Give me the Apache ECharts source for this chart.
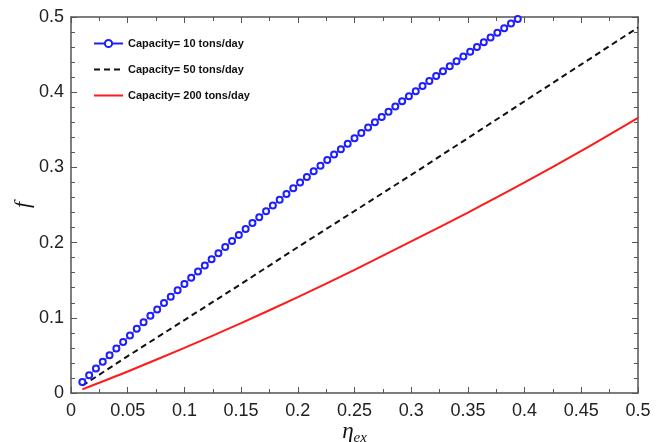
<!DOCTYPE html>
<html>
<head>
<meta charset="utf-8">
<script src="https://cdn.jsdelivr.net/npm/echarts@6/dist/echarts.min.js"></script>
<style>html,body{margin:0;padding:0;background:#fff}#c{width:665px;height:442px}</style>
</head>
<body>
<div id="c"></div>
<script>
var seriesNames = ['Capacity= 10 tons/day', 'Capacity= 50 tons/day', 'Capacity= 200 tons/day'];
var xTicks = ['0','0.05','0.1','0.15','0.2','0.25','0.3','0.35','0.4','0.45','0.5'];
var yTicks = ['0','0.1','0.2','0.3','0.4','0.5'];

// Capacity = 10 tons/day (markers)
var x10 = [0.010,0.016,0.022,0.028,0.034,0.040,0.046,0.052,0.058,0.064,
           0.070,0.076,0.082,0.088,0.094,0.100,0.106,0.112,0.118,0.124,
           0.130,0.136,0.142,0.148,0.154,0.160,0.166,0.172,0.178,0.184,
           0.190,0.196,0.202,0.208,0.214,0.220,0.226,0.232,0.238,0.244,
           0.250,0.256,0.262,0.268,0.274,0.280,0.286,0.292,0.298,0.304,
           0.310,0.316,0.322,0.328,0.334,0.340,0.346,0.352,0.358,0.364,
           0.370,0.376,0.382,0.388,0.394];
var y10 = [0.0145,0.0235,0.0325,0.0414,0.0503,0.0591,0.0679,0.0766,0.0853,0.0940,
           0.1026,0.1111,0.1196,0.1281,0.1365,0.1449,0.1532,0.1615,0.1697,0.1779,
           0.1860,0.1941,0.2021,0.2101,0.2180,0.2259,0.2338,0.2416,0.2493,0.2570,
           0.2647,0.2723,0.2799,0.2874,0.2949,0.3023,0.3097,0.3170,0.3243,0.3315,
           0.3387,0.3459,0.3530,0.3600,0.3670,0.3740,0.3809,0.3878,0.3946,0.4014,
           0.4081,0.4148,0.4214,0.4280,0.4345,0.4410,0.4475,0.4539,0.4602,0.4665,
           0.4728,0.4790,0.4852,0.4913,0.4973];

// Capacity = 50 tons/day (dashed)
var x50 = [0.01,0.05,0.10,0.15,0.20,0.25,0.30,0.35,0.40,0.45,0.50];
var y50 = [0.0097,0.049,0.097,0.145,0.194,0.242,0.290,0.339,0.388,0.437,0.486];

// Capacity = 200 tons/day (solid red)
var x200 = [0.01,0.05,0.10,0.15,0.20,0.25,0.30,0.35,0.40,0.45,0.50];
var y200 = [0.0049,0.0286,0.0600,0.0929,0.1275,0.1637,0.2016,0.2400,0.2800,0.3220,0.3660];

function pairs(xs, ys){ return xs.map(function(x,i){ return [x, ys[i]]; }); }

var axisColor = '#555';
var labelFont = {fontFamily:'Liberation Sans, Arial, sans-serif', fontSize:18, color:'#222'};

var chart = echarts.init(document.getElementById('c'));
chart.setOption({
  animation:false,
  backgroundColor:'#fff',
  grid:{left:71, right:27, top:17, bottom:49, containLabel:false, outerBoundsMode:'none'},
  legend:{
    orient:'vertical', left:88, top:33, itemWidth:29, itemHeight:9, itemGap:15,
    textStyle:{fontFamily:'Liberation Sans, Arial, sans-serif', fontSize:11, fontWeight:'bold', color:'#111'},
    data:[
      {name:seriesNames[0]},
      {name:seriesNames[1], itemStyle:{opacity:0}},
      {name:seriesNames[2], itemStyle:{opacity:0}}
    ]
  },
  xAxis:[{
    type:'value', min:0, max:0.5, interval:0.05,
    name:'{a|η}{b|ex}', nameLocation:'middle', nameGap:27, nameMoveOverlap:false,
    nameTextStyle:{rich:{
      a:{fontFamily:'Liberation Serif, Times New Roman, serif', fontStyle:'italic', fontSize:23, color:'#111', verticalAlign:'bottom'},
      b:{fontFamily:'Liberation Serif, Times New Roman, serif', fontStyle:'italic', fontSize:15, color:'#111', verticalAlign:'bottom', padding:[0,0,-3,0]}
    }},
    axisLine:{show:true, onZero:false, lineStyle:{color:axisColor, width:1.5}},
    axisTick:{show:true, inside:true, length:6, lineStyle:{color:axisColor}},
    minorTick:{show:true, splitNumber:2, length:4, lineStyle:{color:axisColor}},
    axisLabel:Object.assign({margin:9, formatter:function(v,i){ return xTicks[Math.round(v/0.05)]; }}, labelFont),
    splitLine:{show:false}
  },{
    type:'value', min:0, max:0.5, interval:0.05, position:'top',
    axisLine:{show:true, onZero:false, lineStyle:{color:axisColor, width:1.5}},
    axisTick:{show:true, inside:true, length:6, lineStyle:{color:axisColor}},
    minorTick:{show:true, splitNumber:2, length:4, lineStyle:{color:axisColor}},
    axisLabel:{show:false}, splitLine:{show:false}
  }],
  yAxis:[{
    type:'value', min:0, max:0.5, interval:0.1,
    name:'f', nameLocation:'middle', nameGap:37, nameRotate:90, nameMoveOverlap:false,
    nameTextStyle:{fontFamily:'Liberation Serif, Times New Roman, serif', fontStyle:'italic', fontSize:22, color:'#111'},
    axisLine:{show:true, onZero:false, lineStyle:{color:axisColor, width:1.5}},
    axisTick:{show:true, inside:true, length:6, lineStyle:{color:axisColor}},
    minorTick:{show:true, splitNumber:5, length:4, lineStyle:{color:axisColor}},
    axisLabel:Object.assign({margin:7, formatter:function(v){ return yTicks[Math.round(v/0.1)]; }}, labelFont),
    splitLine:{show:false}
  },{
    type:'value', min:0, max:0.5, interval:0.1, position:'right',
    axisLine:{show:true, onZero:false, lineStyle:{color:axisColor, width:1.5}},
    axisTick:{show:true, inside:true, length:6, lineStyle:{color:axisColor}},
    minorTick:{show:true, splitNumber:5, length:4, lineStyle:{color:axisColor}},
    axisLabel:{show:false}, splitLine:{show:false}
  }],
  series:[{
    name:seriesNames[0], type:'line', data:pairs(x10,y10),
    symbol:'emptyCircle', symbolSize:6, showAllSymbol:true, clip:true,
    itemStyle:{color:'#1e1eff', borderWidth:1.2},
    lineStyle:{color:'#1e1eff', width:1}
  },{
    name:seriesNames[1], type:'line', data:pairs(x50,y50), showSymbol:false, symbol:'none',
    itemStyle:{color:'#111'},
    lineStyle:{color:'#111', width:2, type:[6,4]}
  },{
    name:seriesNames[2], type:'line', data:pairs(x200,y200), showSymbol:false, symbol:'none', smooth:0.3,
    itemStyle:{color:'#ff1a1a'},
    lineStyle:{color:'#ff1a1a', width:2}
  }]
});
</script>
</body>
</html>
